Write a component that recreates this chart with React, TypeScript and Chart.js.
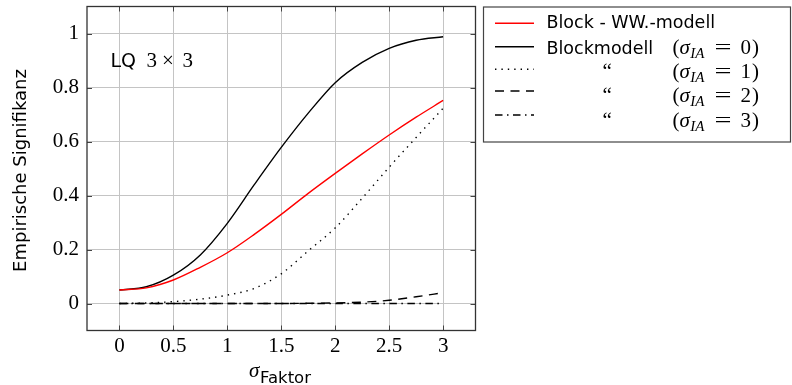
import React, { useEffect, useRef } from "react";
import { Chart, registerables } from "chart.js";

Chart.register(...registerables);

// ---- data ----
const xValues = [0, 0.25, 0.5, 0.75, 1, 1.25, 1.5, 1.75, 2, 2.25, 2.5, 2.75, 3];
const blockWW = [0.05, 0.058, 0.087, 0.134, 0.188, 0.256, 0.33, 0.408, 0.482, 0.554, 0.624, 0.69, 0.752];
const sigmaIA0 = [0.05, 0.062, 0.105, 0.18, 0.297, 0.44, 0.578, 0.705, 0.818, 0.893, 0.945, 0.975, 0.988];
const sigmaIA1 = [0, 0.002, 0.007, 0.016, 0.031, 0.056, 0.11, 0.195, 0.28, 0.39, 0.505, 0.615, 0.723];
const sigmaIA2 = [0, 0, 0, 0, 0, 0, 0, 0.001, 0.002, 0.005, 0.012, 0.025, 0.04];
const sigmaIA3 = [0, 0, 0, 0, 0, 0, 0, 0, 0, 0, 0, 0, 0];

const xTicks = [0, 0.5, 1, 1.5, 2, 2.5, 3];
const yTicks = [0, 0.2, 0.4, 0.6, 0.8, 1];

const legendLabels = ["Block - WW.-modell", "Blockmodell", "\u201C", "\u201C", "\u201C"];
const legendSigma = ["", "0", "1", "2", "3"];

const yTitle = "Empirische Signifikanz";
const xTitleSymbol = "\u03C3";
const xTitleSub = "Faktor";
const noteSans = "LQ";
const noteMath = ["3", "\u00D7", "3"];

const SERIF = "'Liberation Serif', 'DejaVu Serif', serif";
const SANS = "'DejaVu Sans', sans-serif";

const styles = [
  { color: "#ff0000", dash: [] as number[] },
  { color: "#000000", dash: [] as number[] },
  { color: "#000000", dash: [1.4, 5] },
  { color: "#000000", dash: [9, 6.5] },
  { color: "#000000", dash: [7.5, 4.5, 1.5, 4.5] },
];

const seriesList = [blockWW, sigmaIA0, sigmaIA1, sigmaIA2, sigmaIA3];

function fmt(v: number) {
  return String(Number(v.toFixed(2)));
}

function drawMath(ctx: CanvasRenderingContext2D, x: number, base: number, digit: string) {
  ctx.textAlign = "left";
  ctx.textBaseline = "alphabetic";
  ctx.font = `21px ${SERIF}`;
  ctx.fillText("(", x, base);
  x += ctx.measureText("(").width;
  ctx.font = `italic 21px ${SERIF}`;
  ctx.fillText("\u03C3", x, base);
  x += ctx.measureText("\u03C3").width + 0.5;
  ctx.font = `italic 15px ${SERIF}`;
  ctx.fillText("IA", x, base + 4);
  x += ctx.measureText("IA").width;
  x += 10;
  ctx.font = `21px ${SERIF}`;
  const wEq = ctx.measureText("=").width;
  ctx.save();
  ctx.translate(x + 8.5, 0);
  ctx.scale(17 / wEq, 1);
  ctx.textAlign = "center";
  ctx.fillText("=", 0, base);
  ctx.restore();
  x += 17 + 9;
  ctx.fillText(digit, x, base);
  x += ctx.measureText(digit).width + 1;
  ctx.fillText(")", x, base);
}

const overlayPlugin = {
  id: "overlay",
  afterDraw(chart: any) {
    const ctx: CanvasRenderingContext2D = chart.ctx;
    const { left, right, top, bottom } = chart.chartArea;
    const xs = chart.scales.x;
    const ys = chart.scales.y;
    ctx.save();

    // inward tick marks on all four sides
    ctx.strokeStyle = "#444";
    ctx.lineWidth = 1;
    ctx.setLineDash([]);
    ctx.beginPath();
    const tl = 5;
    for (const v of xTicks) {
      const px = Math.round(xs.getPixelForValue(v)) + 0.5;
      ctx.moveTo(px, bottom);
      ctx.lineTo(px, bottom - tl);
      ctx.moveTo(px, top);
      ctx.lineTo(px, top + tl);
    }
    for (const v of yTicks) {
      const py = Math.round(ys.getPixelForValue(v)) + 0.5;
      ctx.moveTo(left, py);
      ctx.lineTo(left + tl, py);
      ctx.moveTo(right, py);
      ctx.lineTo(right - tl, py);
    }
    ctx.stroke();

    // axis box
    ctx.strokeStyle = "#333";
    ctx.lineWidth = 1.3;
    ctx.strokeRect(left, top, right - left, bottom - top);

    // y title
    ctx.fillStyle = "#000";
    ctx.save();
    ctx.translate(26, (top + bottom) / 2 + 2);
    ctx.rotate(-Math.PI / 2);
    ctx.font = `18px ${SANS}`;
    ctx.textAlign = "center";
    ctx.textBaseline = "alphabetic";
    ctx.fillText(yTitle, 0, 0);
    ctx.restore();

    // x title
    ctx.textAlign = "left";
    ctx.textBaseline = "alphabetic";
    ctx.font = `italic 21px ${SERIF}`;
    ctx.fillText(xTitleSymbol, 249, 377);
    ctx.font = `16.5px ${SANS}`;
    ctx.fillText(xTitleSub, 260, 383);

    // note in plot
    ctx.font = `19px ${SANS}`;
    ctx.fillText(noteSans, 110.5, 67.3);
    ctx.font = `21px ${SERIF}`;
    ctx.fillText(noteMath[0], 146.5, 67.3);
    ctx.textAlign = "center";
    ctx.fillText(noteMath[1], 168, 67.3);
    ctx.textAlign = "left";
    ctx.fillText(noteMath[2], 182.5, 67.3);

    // legend
    ctx.strokeStyle = "#444";
    ctx.lineWidth = 1.2;
    ctx.strokeRect(483.5, 7, 307, 135);
    const lineY = [23.3, 46.7, 69.3, 91, 115];
    const textBase = [28.3, 53.5, 78, 102, 126.5];
    for (let i = 0; i < legendLabels.length; i++) {
      ctx.save();
      ctx.strokeStyle = styles[i].color;
      ctx.lineWidth = 1.5;
      ctx.setLineDash(styles[i].dash);
      ctx.beginPath();
      ctx.moveTo(495, lineY[i]);
      ctx.lineTo(534, lineY[i]);
      ctx.stroke();
      ctx.restore();
      ctx.fillStyle = "#000";
      ctx.textAlign = "left";
      ctx.textBaseline = "alphabetic";
      if (i < 2) {
        ctx.font = `17.5px ${SANS}`;
        ctx.fillText(legendLabels[i], 546.5, textBase[i]);
      } else {
        ctx.font = `21px ${SERIF}`;
        ctx.fillText(legendLabels[i], 602.5, textBase[i]);
      }
      if (legendSigma[i]) drawMath(ctx, 672.5, textBase[i], legendSigma[i]);
    }
    ctx.restore();
  },
};

export default function App() {
  const ref = useRef<HTMLCanvasElement | null>(null);
  useEffect(() => {
    document.body.style.margin = "0";
    const canvas = ref.current;
    if (!canvas) return;
    const chart = new Chart(canvas, {
      type: "line",
      data: {
        datasets: seriesList.map((s, i) => ({
          label: legendLabels[i],
          data: xValues.map((x, j) => ({ x, y: s[j] })),
          borderColor: styles[i].color,
          borderWidth: 1.4,
          borderDash: styles[i].dash,
          pointRadius: 0,
          fill: false,
          cubicInterpolationMode: "monotone" as const,
        })),
      },
      options: {
        responsive: false,
        animation: false,
        events: [],
        layout: { padding: { left: 0, top: 6.5, right: 316.5, bottom: 0 } },
        plugins: { legend: { display: false }, tooltip: { enabled: false }, title: { display: false } },
        scales: {
          x: {
            type: "linear",
            min: -0.3,
            max: 3.3,
            afterBuildTicks: (scale: any) => {
              scale.ticks = xTicks.map((v) => ({ value: v }));
            },
            afterFit: (scale: any) => {
              scale.height = 54.5;
              scale.paddingLeft = 0;
              scale.paddingRight = 0;
            },
            grid: { color: "#c4c4c4", lineWidth: 1, drawTicks: false },
            border: { display: false },
            ticks: {
              padding: 3,
              color: "#000",
              font: { family: SERIF, size: 21 },
              callback: (v: any) => fmt(Number(v)),
              maxRotation: 0,
              autoSkip: false,
            },
          },
          y: {
            type: "linear",
            min: -0.1,
            max: 1.1,
            afterBuildTicks: (scale: any) => {
              scale.ticks = yTicks.map((v) => ({ value: v }));
            },
            afterFit: (scale: any) => {
              scale.width = 87;
              scale.paddingTop = 0;
              scale.paddingBottom = 0;
            },
            grid: { color: "#c4c4c4", lineWidth: 1, drawTicks: false },
            border: { display: false },
            ticks: {
              padding: 8,
              color: "#000",
              font: { family: SERIF, size: 21 },
              callback: (v: any) => fmt(Number(v)),
              autoSkip: false,
            },
          },
        },
      },
      plugins: [overlayPlugin],
    });
    return () => chart.destroy();
  }, []);
  return (
    <div style={{ position: "absolute", left: 0, top: 0, width: 792, height: 385, background: "#fff" }}>
      <canvas ref={ref} width={792} height={385} />
    </div>
  );
}
